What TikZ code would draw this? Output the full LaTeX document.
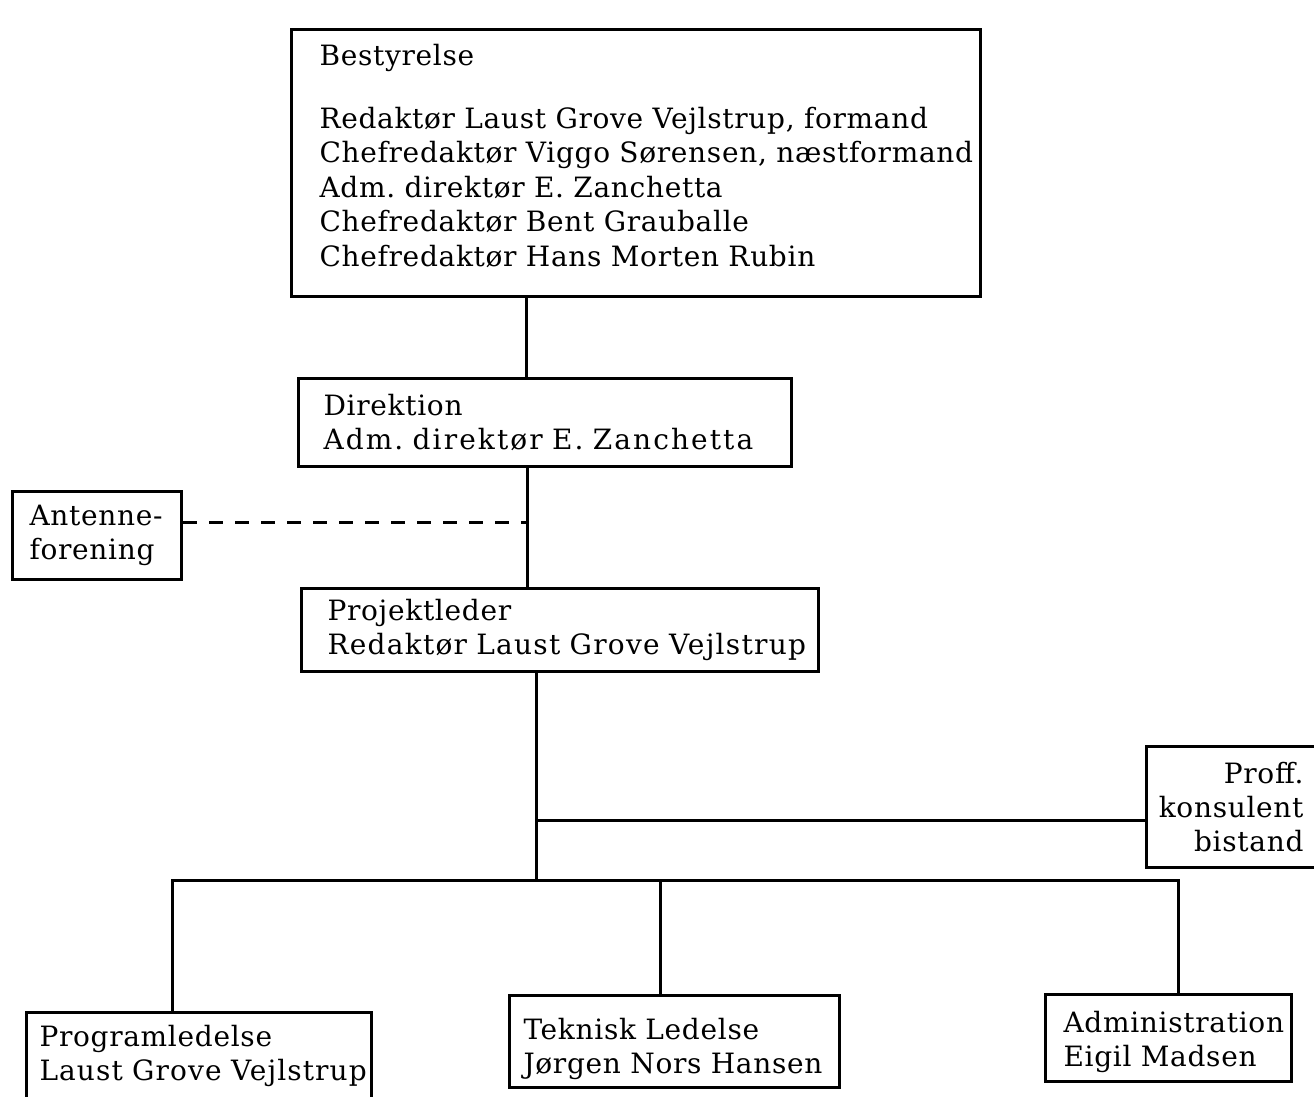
\documentclass[tikz,border=0pt]{standalone}
\usepackage{fontspec}
\setmainfont{DejaVu Serif}[LetterSpace=2.5]
\frenchspacing
\begin{document}
\begin{tikzpicture}[x=0.5pt,y=-0.5pt,
  box/.style={draw, line width=1.5pt, anchor=north west, inner xsep=0pt, inner ysep=0pt,
    align=left, font=\fontsize{14}{17}\selectfont\frenchspacing},
  conn/.style={line width=1.5pt},
  dashconn/.style={line width=1.5pt, dash pattern=on 7pt off 6pt}]
\path[use as bounding box, clip] (0,0) rectangle (1314,1097);
\fill[white] (0,0) rectangle (1314,1097);

\node[box, text width=344.5pt, minimum height=133.5pt, font=\fontsize{14}{17.25}\selectfont\frenchspacing] (best) at (290,28)
  {\leftskip=14pt Bestyrelse\\[14.25pt]
   Redaktør Laust Grove Vejlstrup, formand\\
   Chefredaktør Viggo Sørensen, næstformand\\
   Adm. direktør E. Zanchetta\\
   Chefredaktør Bent Grauballe\\
   Chefredaktør Hans Morten Rubin\rule[-8pt]{0pt}{8pt}\par};

\node[box, text width=246.5pt, minimum height=44pt] (dir) at (297,377)
  {\leftskip=12.5pt Direktion\\{\addfontfeature{LetterSpace=7.5}Adm. direktør E. Zanchetta}\par};

\node[box, text width=84.5pt, minimum height=44pt] (ant) at (11,490)
  {\leftskip=8.5pt Antenne-\\forening\par};

\node[box, text width=258.5pt, minimum height=41.5pt] (proj) at (300,587)
  {\leftskip=13pt Projektleder\\{\addfontfeature{LetterSpace=4.5}Redaktør Laust Grove Vejlstrup}\par};

\node[box, text width=92.5pt, minimum height=60.5pt, align=right] (proff) at (1145,745)
  {\rightskip=14pt Proff.\\konsulent\\bistand\par};

\node[box, text width=172.5pt, minimum height=43pt] (prog) at (25,1011)
  {\leftskip=6.5pt Programledelse\\{\addfontfeature{LetterSpace=4}Laust Grove Vejlstrup}\par};

\node[box, text width=165pt, minimum height=46pt] (tek) at (508,994)
  {\leftskip=7pt \rule{0pt}{18.6pt}Teknisk Ledelse\\Jørgen Nors Hansen\par};

\node[box, text width=123pt, minimum height=43.5pt] (adm) at (1044,993)
  {\leftskip=9pt \rule{0pt}{14.6pt}Administration\\Eigil Madsen\par};

\coordinate (c1) at (526,0);
\coordinate (c2) at (527,0);
\coordinate (jA) at (527,522);
\coordinate (kp) at (536,820);
\coordinate (bus) at (536,880);
\coordinate (bl) at (172,880);
\coordinate (tm) at (660,880);
\coordinate (br) at (1178,880);

\draw[conn] (best.south -| c1) -- (dir.north -| c1);
\draw[conn] (dir.south -| c2) -- (proj.north -| c2);
\draw[dashconn] (ant.east |- jA) -- (jA);
\draw[conn] (proj.south -| bus) -- (bus);
\draw[conn] (kp) -- (proff.west |- kp);
\draw[conn] (prog.north -| bl) -- (bl) -- (br) -- (adm.north -| br);
\draw[conn] (tm) -- (tek.north -| tm);
\end{tikzpicture}
\end{document}
